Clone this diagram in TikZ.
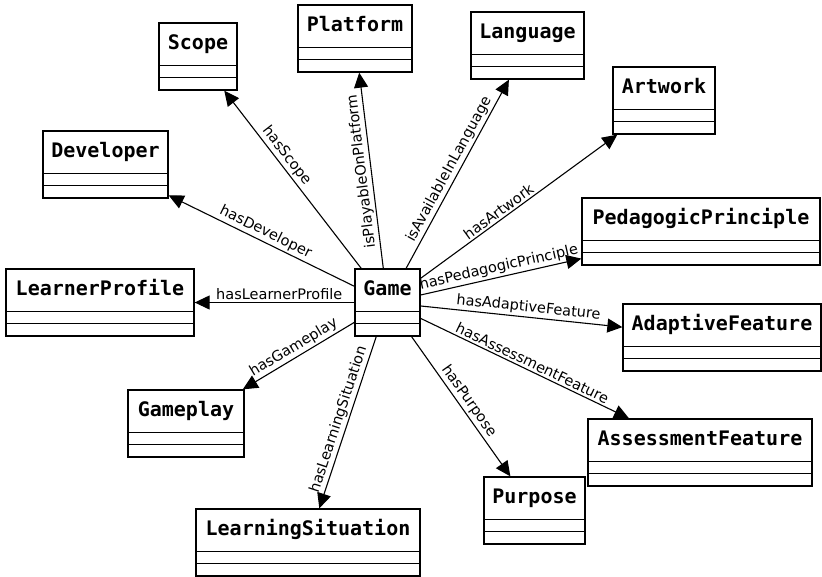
\documentclass[tikz,border=0pt]{standalone}
\usepackage{fontspec}
\setmainfont{DejaVu Sans}
\newfontfamily\umltitlefont{DejaVu Sans Mono}
\usetikzlibrary{arrows.meta}
\tikzset{
  umlbody/.style={draw, line width=1.3pt, fill=white, inner sep=0pt, minimum height=67pt},
  umltitle/.style={font={\umltitlefont\bfseries\fontsize{20}{24}\selectfont}, inner sep=0pt, anchor=base},
  umlsep/.style={line width=1.3pt},
  edge/.style={line width=1.1pt, -{Triangle[length=15pt,width=14pt]}},
  lbl/.style={font={\fontsize{14.5}{17}\selectfont}, sloped, above, inner sep=2pt},
}
\newcommand\umlbox[5]{%
  \node[umlbody, minimum width=#4pt] (#1) at ({#2+#4/2},{#3+33.5}) {};
  \node[umltitle] (#1-t) at ([yshift=-27.5pt]#1.north) {#5};
  \draw[umlsep] ([yshift=-43pt]#1.north west) -- ([yshift=-43pt]#1.north east);
  \draw[umlsep] ([yshift=-55pt]#1.north west) -- ([yshift=-55pt]#1.north east);
}
\begin{document}
\begin{tikzpicture}[x=1pt,y=-1pt]
\useasboundingbox (0,0) rectangle (822,576);
\umlbox{game}{355}{269}{65}{Game}
\umlbox{scope}{159}{23}{78}{Scope}
\umlbox{platform}{298}{5}{114}{Platform}
\umlbox{language}{471}{12}{113}{Language}
\umlbox{artwork}{613}{67}{102}{Artwork}
\umlbox{developer}{43}{131}{125}{Developer}
\umlbox{learner}{6}{269}{188}{LearnerProfile}
\umlbox{pedagogic}{582}{198}{238}{PedagogicPrinciple}
\umlbox{adaptive}{623}{304}{198}{AdaptiveFeature}
\umlbox{assessment}{588}{419}{224}{AssessmentFeature}
\umlbox{gameplay}{128}{390}{116}{Gameplay}
\umlbox{purpose}{484}{477}{101}{Purpose}
\umlbox{situation}{196}{509}{224}{LearningSituation}

\draw[edge] (game) -- node[lbl, pos=0.6] {hasScope} (scope);
\draw[edge] (game) -- node[lbl, pos=0.5, allow upside down] {isPlayableOnPlatform} (platform);
\draw[edge] (game) -- node[lbl, pos=0.5] {isAvailableInLanguage} (language);
\draw[edge] (game) -- node[lbl, pos=0.42] {hasArtwork} (artwork);
\draw[edge] (game) -- node[lbl, pos=0.5] {hasPedagogicPrinciple} (pedagogic);
\draw[edge] (game) -- node[lbl, pos=0.53] {hasAdaptiveFeature} (adaptive);
\draw[edge] (game) -- node[lbl, pos=0.52] {hasAssessmentFeature} (assessment);
\draw[edge] (game) -- node[lbl, pos=0.5] {hasPurpose} (purpose);
\draw[edge] (game) -- node[lbl, pos=0.5] {hasLearningSituation} (situation);
\draw[edge] (game) -- node[lbl, pos=0.5] {hasGameplay} (gameplay);
\draw[edge] (game) -- node[lbl, pos=0.47] {hasLearnerProfile} (learner);
\draw[edge] (game) -- node[lbl, pos=0.5] {hasDeveloper} (developer);
\end{tikzpicture}
\end{document}
